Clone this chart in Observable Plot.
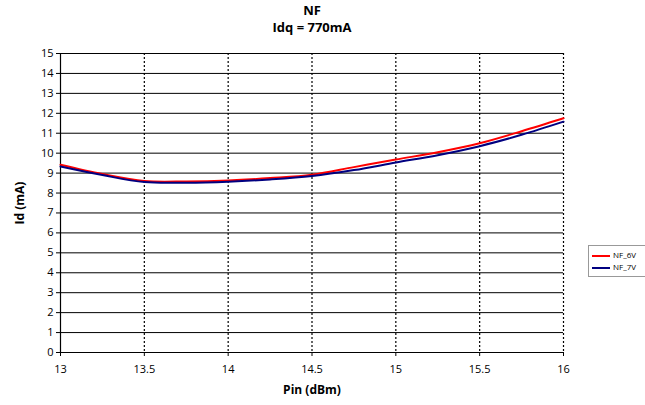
<!DOCTYPE html>
<html><head><meta charset="utf-8">
<script src="https://cdn.jsdelivr.net/npm/d3@7"></script>
<script src="https://cdn.jsdelivr.net/npm/@observablehq/plot@0.6"></script>
<style>
body{margin:0;background:#fff;font-family:"Open Sans","DejaVu Sans",sans-serif;}
#wrap{position:relative;width:645px;height:405px;}
.t{position:absolute;font-weight:bold;font-size:13px;text-align:center;width:200px;left:212px;color:#000;line-height:16px;}
#legend{position:absolute;left:588px;top:245px;width:56px;height:30px;border:1px solid #999;background:#fff;font-size:8px;}
.li{position:absolute;left:3px;height:12px;line-height:12px;}
.sw{display:inline-block;width:18px;height:2px;vertical-align:middle;margin-right:3px;}
</style></head>
<body><div id="wrap"><div id="chart"></div>
<div class="t" style="top:2px">NF</div>
<div class="t" style="top:19px">Idq = 770mA</div>
<div id="legend"></div>
</div>
<script>
const pin = [13, 13.25, 13.5, 13.75, 14, 14.25, 14.5, 14.75, 15, 15.25, 15.5, 15.75, 16];
const nf6v = [9.42, 8.95, 8.6, 8.58, 8.63, 8.75, 8.92, 9.3, 9.68, 10.05, 10.5, 11.1, 11.75];
const nf7v = [9.33, 8.9, 8.55, 8.52, 8.57, 8.68, 8.85, 9.15, 9.53, 9.9, 10.35, 10.92, 11.58];
const seriesNames = ["NF_6V", "NF_7V"];
const seriesColors = ["#ff0000", "#000080"];
const xTicks = [13, 13.5, 14, 14.5, 15, 15.5, 16];
const yTicks = d3.range(0, 16);

const data = [];
[nf6v, nf7v].forEach((vals, s) => vals.forEach((v, i) => data.push({x: pin[i], y: v, s: seriesNames[s]})));

const chart = Plot.plot({
  width: 645, height: 405,
  marginLeft: 60, marginRight: 82, marginTop: 53, marginBottom: 53,
  style: {fontFamily: '"Open Sans","DejaVu Sans",sans-serif', fontSize: "11px", color: "#000"},
  x: {domain: [13, 16]},
  y: {domain: [0, 15]},
  color: {domain: seriesNames, range: seriesColors},
  marks: [
    Plot.ruleY(yTicks, {stroke: "#000", strokeWidth: 1}),
    Plot.ruleX(xTicks.filter(d => d > 13), {stroke: "#000", strokeWidth: 1.2, strokeDasharray: "2,2"}),
    Plot.ruleX([13], {stroke: "#000", strokeWidth: 1.2}),
    Plot.axisX({ticks: xTicks, tickFormat: d => String(d), tickSize: 4, tickPadding: 9, label: "Pin (dBm)", labelAnchor: "center", labelArrow: "none", labelOffset: 41, fontSize: 11}),
    Plot.axisY({ticks: yTicks, tickFormat: d => String(d), tickSize: 4, tickPadding: 3, label: "Id (mA)", labelAnchor: "center", labelArrow: "none", labelOffset: 45, fontSize: 11}),
    Plot.line(data, {x: "x", y: "y", stroke: "s", strokeWidth: 2, curve: "catmull-rom"})
  ]
});
document.getElementById("chart").appendChild(chart);
d3.select(chart).selectAll("[aria-label='x-axis label'] text, [aria-label='y-axis label'] text")
  .style("font-weight", "bold").style("font-size", "12px");

const lg = document.getElementById("legend");
seriesNames.forEach((n, i) => {
  const d = document.createElement("div");
  d.className = "li"; d.style.top = (3 + i * 12) + "px";
  d.innerHTML = `<span class="sw" style="background:${seriesColors[i]}"></span>${n}`;
  lg.appendChild(d);
});
</script></body></html>
